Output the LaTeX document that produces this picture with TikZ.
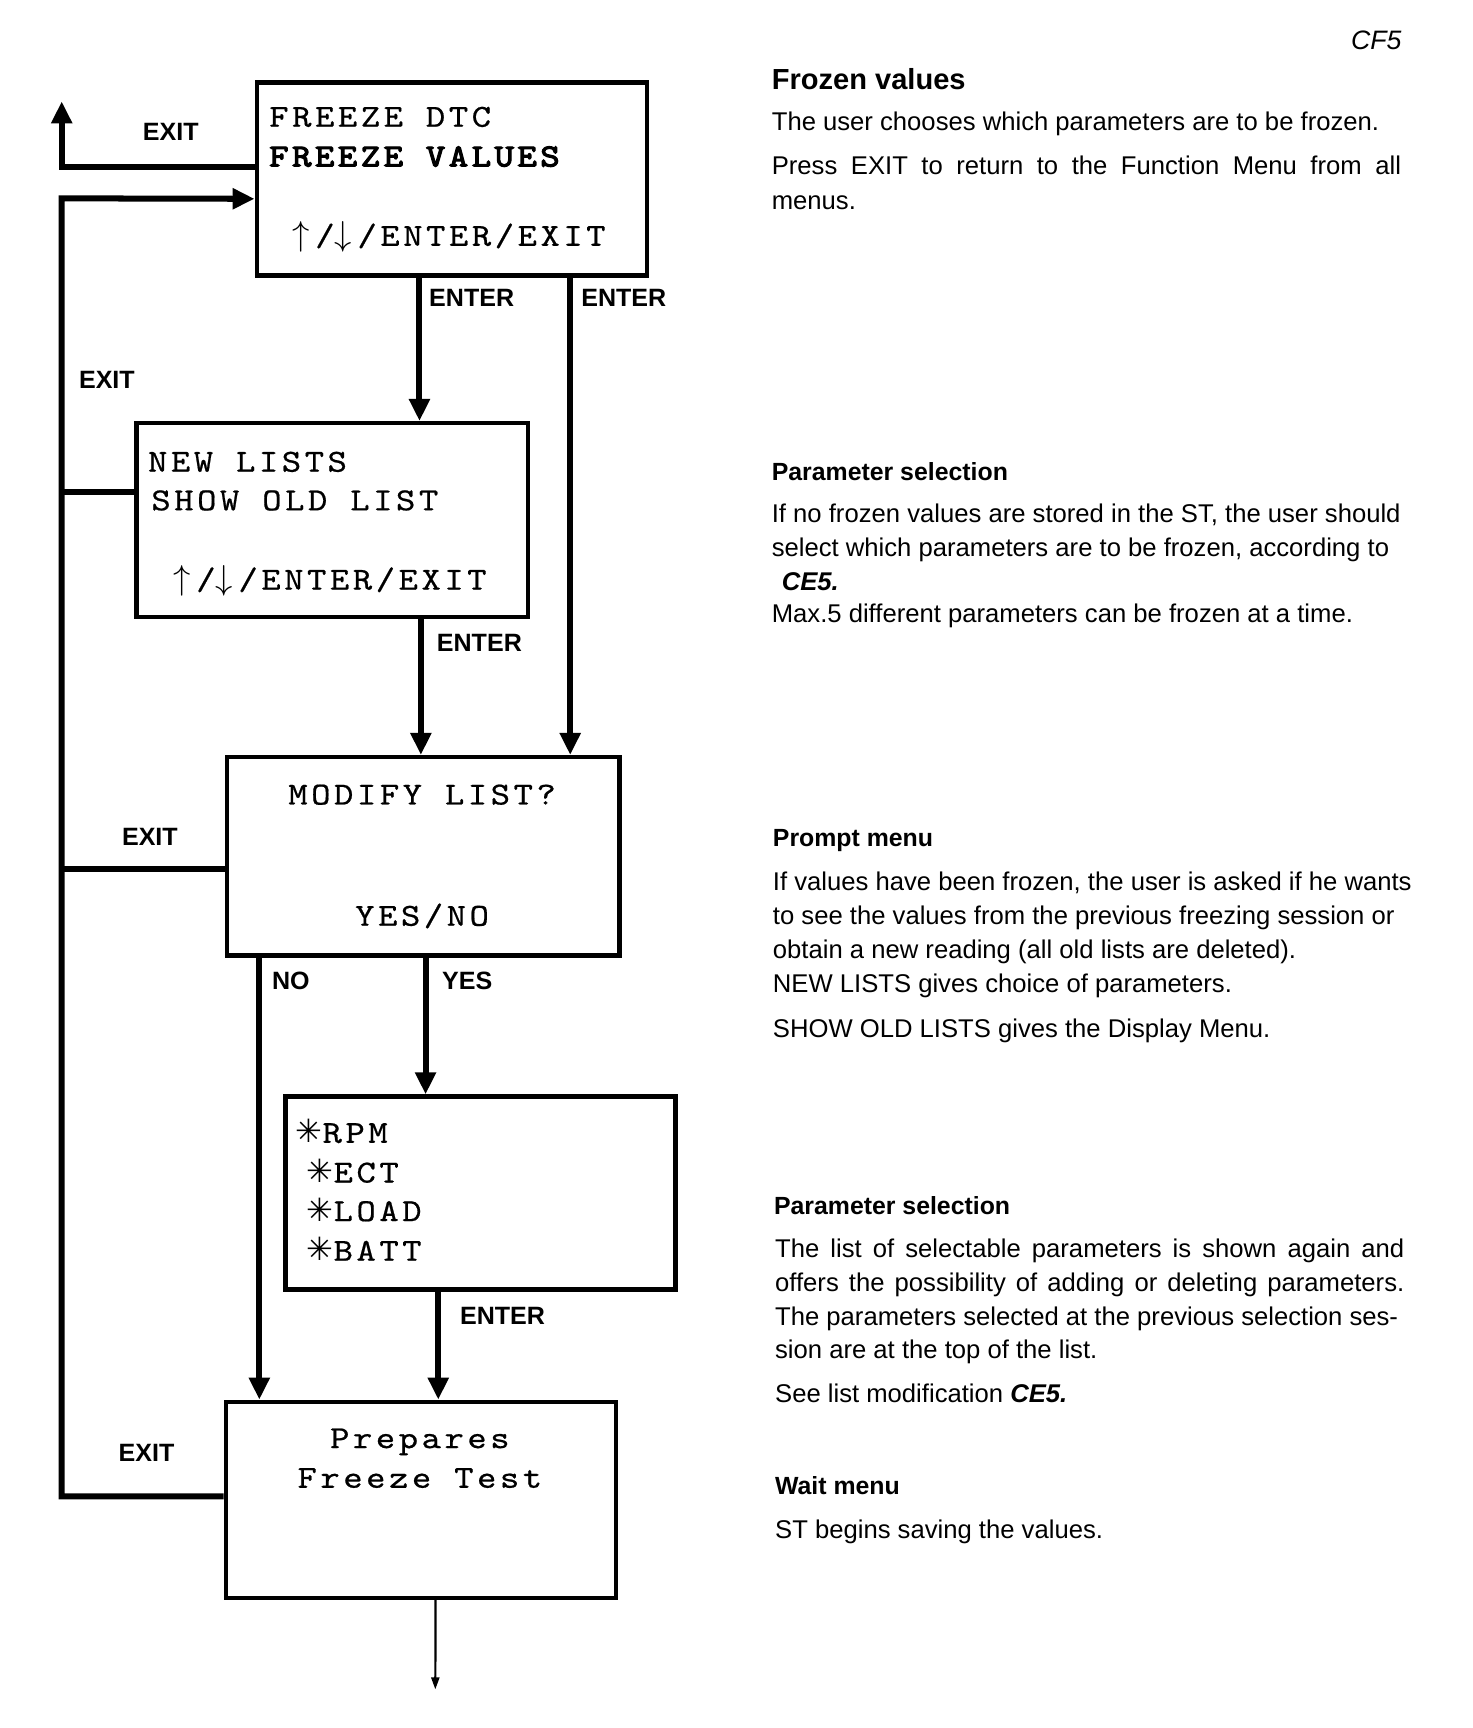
\documentclass[tikz,border=0pt]{standalone}
\usepackage{fontspec}
\setmainfont{Liberation Sans}
\newfontfamily\scrfont{lmmono10-regular.otf}[FakeStretch=1.15, LetterSpace=11, FakeBold=0.6]
\newfontfamily\scrbold{lmmono10-regular.otf}[FakeStretch=1.15, LetterSpace=11, FakeBold=3.5]
\newfontfamily\symfont{DejaVu Sans}
\usetikzlibrary{arrows.meta,calc,fit}
\newcommand{\jline}[2]{\makebox[#1][s]{#2}}
\newcommand{\stc}{{\symfont\fontsize{16}{18}\selectfont ✳}}
\newcommand{\uarr}{\makebox[11.4pt][l]{$\uparrow$}}
\newcommand{\darr}{\makebox[11.4pt][l]{$\downarrow$}}
\tikzset{
  box/.style={draw, line width=2.2pt, inner sep=0pt},
  flow/.style={line width=3pt, -{Triangle[length=11pt,width=10pt]}},
  conn/.style={line width=3pt},
  thinflow/.style={line width=1.1pt, -{Triangle[length=6pt,width=4pt]}},
  lbl/.style={font=\fontsize{12.5}{14}\selectfont\bfseries, inner sep=0pt},
  scr/.style={font=\scrfont\fontsize{16}{18}\selectfont, inner sep=0pt, anchor=base west},
  scrc/.style={font=\scrfont\fontsize{16}{18}\selectfont, inner sep=0pt, anchor=base},
  body/.style={font=\fontsize{12.8}{15}\selectfont, inner sep=0pt, anchor=base west},
  head/.style={font=\fontsize{12.4}{15}\selectfont\bfseries, inner sep=0pt, anchor=base west},
}
\begin{document}
\begin{tikzpicture}[x=0.55pt,y=-0.55pt]
\fill[white] (0,0) rectangle (1336,1568);
\useasboundingbox (0,0) rectangle (1336,1568);

% boxes
\node (b1) [box, fit={(233,75) (587,250)}] {};
\node (b2) [box, fit={(124,384) (479,560)}] {};
\node (b3) [box, fit={(206,687) (562,867)}] {};
\node (b4) [box, fit={(259,995) (613,1170)}] {};
\node (b5) [box, fit={(205,1272) (559,1450)}] {};

% box texts
\node (b1t1) [scr] at (244,115) {FREEZE DTC};
\node (b1t2) [scr] at (244,151) {\scrbold\fontsize{16}{18}\selectfont FREEZE VALUES};
\node (b1t3) [scr] at (265,223) {\uarr/\darr/ENTER/EXIT};
\node (b2t1) [scr] at (134,428) {NEW LISTS};
\node (b2t2) [scr] at (137,463) {SHOW OLD LIST};
\node (b2t3) [scr] at (157,535) {\uarr/\darr/ENTER/EXIT};
\node (b3t1) [scrc] at (383,730) {MODIFY LIST?};
\node (b3t2) [scrc] at (383,840) {YES/NO};
\node (b4t1) [scr] at (268,1037) {\stc RPM};
\node (b4t2) [scr] at (278,1073) {\stc ECT};
\node (b4t3) [scr] at (278,1108) {\stc LOAD};
\node (b4t4) [scr] at (278,1144) {\stc BATT};
\node (b5t1) [scrc] at (381,1314) {Prepares};
\node (b5t2) [scrc] at (381,1350) {Freeze Test};

% connector points
\coordinate (b1x) at ($(b1.north west)!0.44!(b1.south west)$);
\coordinate (b1in) at ($(b1.north west)!0.6!(b1.south west)$);
\coordinate (b2x) at ($(b2.north west)!0.358!(b2.south west)$);
\coordinate (b3x) at ($(b3.north west)!0.561!(b3.south west)$);
\coordinate (b5x) at ($(b5.north west)!0.483!(b5.south west)$);
\coordinate (up) at (56,92);
\coordinate (lt) at (56,180);
\coordinate (d1) at ($(b1.south west)!0.418!(b1.south east)$);
\coordinate (d2) at ($(b1.south west)!0.8!(b1.south east)$);
\coordinate (d3) at ($(b2.south west)!0.724!(b2.south east)$);
\coordinate (d4) at ($(b3.south west)!0.087!(b3.south east)$);
\coordinate (d5) at ($(b3.south west)!0.506!(b3.south east)$);
\coordinate (d6) at ($(b4.south west)!0.393!(b4.south east)$);
\coordinate (d7) at ($(b5.south west)!0.537!(b5.south east)$);
\coordinate (endpt) at (395,1533);

% connectors
\draw[flow] (b1x) -| (up);
\draw[flow] (b5x) -| (lt) -- (b1in);
\draw[conn] (b2x) -- (b2x -| lt);
\draw[conn] (b3x) -- (b3x -| lt);
\draw[flow] (d1) -- (d1 |- b2.north);
\draw[flow] (d2) -- (d2 |- b3.north);
\draw[flow] (d3) -- (d3 |- b3.north);
\draw[flow] (d4) -- (d4 |- b5.north);
\draw[flow] (d5) -- (d5 |- b4.north);
\draw[flow] (d6) -- (d6 |- b5.north);
\draw[thinflow] (d7) -- (endpt);

% connector labels
\node (l1) [lbl] at (155,120) {EXIT};
\node (l2) [lbl] at (97,345) {EXIT};
\node (l3) [lbl] at (136,759) {EXIT};
\node (l4) [lbl] at (133,1318) {EXIT};
\node (l5) [lbl] at (428,270) {ENTER};
\node (l6) [lbl] at (566,270) {ENTER};
\node (l7) [lbl] at (435,583) {ENTER};
\node (l8) [lbl] at (264,890) {NO};
\node (l9) [lbl] at (424,890) {YES};
\node (l10) [lbl] at (456,1194) {ENTER};

% right-hand text
\node (cf) [font=\fontsize{13.3}{15}\selectfont\itshape, inner sep=0pt, anchor=base east] at (1272,45) {CF5};
\node (h1) [font=\fontsize{14.5}{17}\selectfont\bfseries, inner sep=0pt, anchor=base west] at (700,81) {Frozen values};
\node (p1a) [body] at (700,118) {The user chooses which parameters are to be frozen.};
\node (p1b) [body] at (700,158) {\jline{314pt}{Press EXIT to return to the Function Menu from all}};
\node (p1c) [body] at (700,190) {menus.};

\node (h2) [head] at (700,436) {Parameter selection};
\node (p2a) [body] at (700,474) {If no frozen values are stored in the ST, the user should};
\node (p2b) [body] at (700,505) {select which parameters are to be frozen, according to};
\node (p2c) [body] at (709,536) {\bfseries\itshape CE5.};
\node (p2d) [body] at (700,565) {Max.5 different parameters can be frozen at a time.};

\node (h3) [head] at (701,768) {Prompt menu};
\node (p3a) [body] at (701,808) {If values have been frozen, the user is asked if he wants};
\node (p3b) [body] at (701,839) {to see the values from the previous freezing session or};
\node (p3c) [body] at (701,870) {obtain a new reading (all old lists are deleted).};
\node (p3d) [body] at (701,901) {NEW LISTS gives choice of parameters.};
\node (p3e) [body] at (701,941) {SHOW OLD LISTS gives the Display Menu.};

\node (h4) [head] at (702,1102) {Parameter selection};
\node (p4a) [body] at (703,1141) {\jline{314pt}{The list of selectable parameters is shown again and}};
\node (p4b) [body] at (703,1172) {\jline{314pt}{offers the possibility of adding or deleting parameters.}};
\node (p4c) [body] at (703,1203) {The parameters selected at the previous selection ses-};
\node (p4d) [body] at (703,1233) {sion are at the top of the list.};
\node (p4e) [body] at (703,1273) {See list modification {\bfseries\itshape CE5.}};

\node (h5) [head] at (703,1356) {Wait menu};
\node (p5a) [body] at (703,1396) {ST begins saving the values.};
\end{tikzpicture}
\end{document}
